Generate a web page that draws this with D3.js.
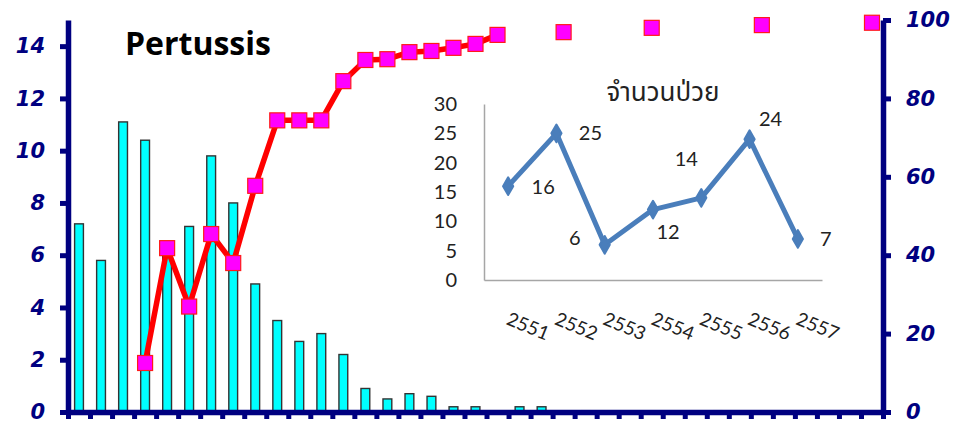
<!DOCTYPE html>
<html>
<head>
<meta charset="utf-8">
<script src="https://cdn.jsdelivr.net/npm/d3@7"></script>
<style>
    body { margin: 0; background: #fff; }
    svg { display: block; }
</style>
</head>
<body>
<svg id="chart" width="961" height="425"></svg>
<script>
// main chart data (37 unnamed periods)
const periods = [1, 2, 3, 4, 5, 6, 7, 8, 9, 10, 11, 12, 13, 14, 15, 16, 17, 18, 19, 20,
    21, 22, 23, 24, 25, 26, 27, 28, 29, 30, 31, 32, 33, 34, 35, 36, 37];
const barValues = [7.2, 5.8, 11.1, 10.4, 6.3, 7.1, 9.8, 8.0, 4.9, 3.5, 2.7, 3.0, 2.2, 0.9, 0.5, 0.7,
    0.6, 0.2, 0.2, 0, 0.2, 0.2, 0, 0.05, 0, 0, 0, 0, 0, 0.05, 0, 0, 0, 0, 0, 0, 0];
const cumulative = [null, null, null, 12.5, 41.8, 26.9, 45.4, 38.0, 57.7, 74.4, 74.4, 74.4, 84.4,
    89.8, 90.0, 91.8, 92.1, 92.9, 93.9, 96.2, null, null, 96.9, null, null, null, 98.0,
    null, null, null, null, 98.7, null, null, null, null, 99.3];
const leftTicks = [0, 2, 4, 6, 8, 10, 12, 14];
const rightTicks = [0, 20, 40, 60, 80, 100];

// inset chart data
const years = ["2551", "2552", "2553", "2554", "2555", "2556", "2557"];
const cases = [16, 25, 6, 12, 14, 24, 7];
const insetTicks = [0, 5, 10, 15, 20, 25, 30];
// where each value label sits relative to its point
const labelOffsets = [[35, 1], [34, 0], [-30, -7], [15, 22], [-15, -39], [21, -20], [28, 0]];

const navy = "#000080";
const svg = d3.select("#chart");

// scales
let x = d3.scaleBand().domain(periods).range([68, 883]).paddingInner(0.6).paddingOuter(0.3);
let xEdges = d3.scaleLinear().domain([0, periods.length]).range([68, 883]);
let yLeft = d3.scaleLinear().domain([0, 15]).range([412, 20]);
let yRight = d3.scaleLinear().domain([0, 100]).range([412, 20]);

// bars
svg.append("g")
    .selectAll("rect")
    .data(barValues)
    .join("rect")
    .attr("x", (d, i) => x(periods[i]))
    .attr("y", d => yLeft(d))
    .attr("width", x.bandwidth())
    .attr("height", d => yLeft(0) - yLeft(d))
    .style("fill", "#00ffff")
    .style("stroke", "#333")
    .style("stroke-width", 1.4);

// axes
function styleAxis(g) {
    g.selectAll(".domain").style("stroke", navy).style("stroke-width", 5.5);
    g.selectAll(".tick line").style("stroke", navy).style("stroke-width", 5);
    g.selectAll(".tick text")
        .style("font-family", "'DejaVu Sans', sans-serif")
        .style("font-weight", "bold")
        .style("font-style", "oblique")
        .style("font-size", "21px")
        .style("fill", navy);
}

svg.append("g")
    .attr("transform", "translate(0,412)")
    .call(d3.axisBottom(xEdges).tickValues(d3.range(0, periods.length + 1)).tickFormat("").tickSize(7).tickSizeOuter(0))
    .call(styleAxis);

svg.append("g")
    .attr("transform", "translate(68,0)")
    .call(d3.axisLeft(yLeft).tickValues(leftTicks).tickSize(8).tickSizeOuter(0).tickPadding(15))
    .call(styleAxis);

svg.append("g")
    .attr("transform", "translate(883,0)")
    .call(d3.axisRight(yRight).tickValues(rightTicks).tickSize(8).tickSizeOuter(0).tickPadding(15))
    .call(styleAxis);

// cumulative line + squares
let line = d3.line()
    .defined(d => d !== null)
    .x((d, i) => x(periods[i]) + x.bandwidth() / 2)
    .y(d => yRight(d));

svg.append("path")
    .datum(cumulative)
    .attr("d", line)
    .style("fill", "none")
    .style("stroke", "#ff0000")
    .style("stroke-width", 5.5)
    .style("stroke-linejoin", "round");

let squareSize = 15;
svg.append("g")
    .selectAll("rect")
    .data(cumulative.map((d, i) => ({ value: d, period: periods[i] })).filter(d => d.value !== null))
    .join("rect")
    .attr("x", d => x(d.period) + x.bandwidth() / 2 - squareSize / 2)
    .attr("y", d => yRight(d.value) - squareSize / 2)
    .attr("width", squareSize)
    .attr("height", squareSize)
    .style("fill", "#ff00ff")
    .style("stroke", "#ff1a1a")
    .style("stroke-width", 1.2);

// title
svg.append("text")
    .attr("x", 125)
    .attr("y", 55)
    .text("Pertussis")
    .style("font-family", "'Open Sans', sans-serif")
    .style("font-weight", "bold")
    .style("font-size", "32px")
    .style("fill", "#000");

// ---- inset chart ----
let ix = d3.scaleBand().domain(years).range([484, 822]);
let iy = d3.scaleLinear().domain([0, 30]).range([280, 104]);
let textFont = "Lato, 'Noto Sans', sans-serif";

let iyAxis = svg.append("g")
    .attr("transform", "translate(484,0)")
    .call(d3.axisLeft(iy).tickValues(insetTicks).tickSize(0).tickPadding(27));
iyAxis.select(".domain").style("stroke", "#a6a6a6").style("stroke-width", 1.5);
iyAxis.selectAll(".tick text")
    .style("font-family", textFont)
    .style("font-size", "20px")
    .style("fill", "#222");

let ixAxis = svg.append("g")
    .attr("transform", "translate(0,280)")
    .call(d3.axisBottom(ix).tickSize(0).tickSizeOuter(0));
ixAxis.select(".domain").style("stroke", "#a6a6a6").style("stroke-width", 1.5);
ixAxis.selectAll(".tick text")
    .attr("text-anchor", "start")
    .attr("x", 0)
    .attr("y", 0)
    .attr("dy", 0)
    .attr("transform", "translate(-3,44) rotate(22)")
    .style("font-family", textFont)
    .style("font-size", "19px")
    .style("fill", "#222");

let insetLine = d3.line()
    .x((d, i) => ix(years[i]) + ix.bandwidth() / 2)
    .y(d => iy(d));

svg.append("path")
    .datum(cases)
    .attr("d", insetLine)
    .style("fill", "none")
    .style("stroke", "#4a7ebb")
    .style("stroke-width", 5)
    .style("stroke-linejoin", "round");

svg.append("g")
    .selectAll("path")
    .data(cases)
    .join("path")
    .attr("transform", (d, i) => "translate(" + (ix(years[i]) + ix.bandwidth() / 2) + "," + iy(d) + ")")
    .attr("d", d3.symbol(d3.symbolDiamond).size(90))
    .style("fill", "#4a7ebb")
    .style("stroke", "#4a7ebb")
    .style("stroke-width", 2)
    .style("stroke-linejoin", "round");

svg.append("g")
    .selectAll("text")
    .data(cases)
    .join("text")
    .attr("x", (d, i) => ix(years[i]) + ix.bandwidth() / 2 + labelOffsets[i][0])
    .attr("y", (d, i) => iy(d) + labelOffsets[i][1])
    .attr("dy", "0.35em")
    .attr("text-anchor", "middle")
    .text(d => d)
    .style("font-family", textFont)
    .style("font-size", "20px")
    .style("fill", "#222");

svg.append("text")
    .attr("x", 663)
    .attr("y", 101)
    .attr("text-anchor", "middle")
    .text("จำนวนป่วย")
    .style("font-family", "Tahoma, 'Noto Sans Thai', 'DejaVu Sans', sans-serif")
    .style("font-size", "26px")
    .style("fill", "#222");
</script>
</body>
</html>
